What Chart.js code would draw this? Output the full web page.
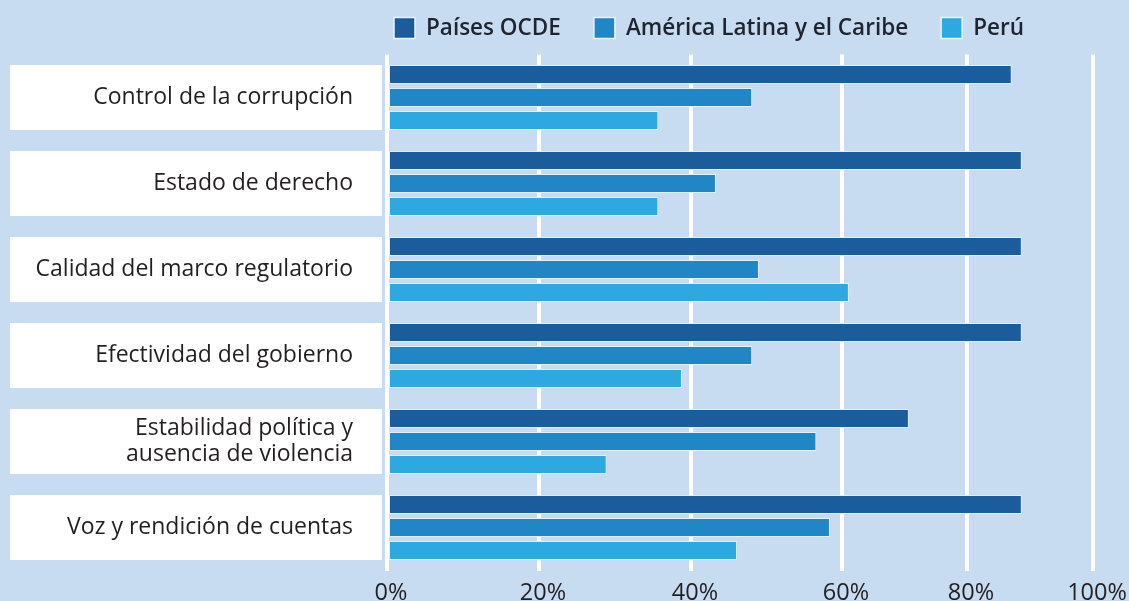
<!DOCTYPE html>
<html>
<head>
<meta charset="utf-8">
<script src="https://cdn.jsdelivr.net/npm/chart.js@4.4.0/dist/chart.umd.min.js"></script>
<style>
html, body { margin: 0; padding: 0; background: #c7dcf0; }
#wrap { width: 1129px; height: 601px; position: relative; }
canvas { display: block; }
</style>
</head>
<body>
<div id="wrap"><canvas id="c" width="1129" height="601"></canvas></div>
<script>
// ---- data ----
const categories = [
  "Control de la corrupción",
  "Estado de derecho",
  "Calidad del marco regulatorio",
  "Efectividad del gobierno",
  ["Estabilidad política y", "ausencia de violencia"],
  "Voz y rendición de cuentas"
];
const seriesNames = ["Países OCDE", "América Latina y el Caribe", "Perú"];
const ocdeValues = [87.1, 88.7, 88.7, 88.7, 70.7, 88.7];
const alcValues  = [48.1, 43.3, 49.0, 48.1, 56.6, 58.4];
const peruValues = [35.7, 35.7, 61.1, 38.8, 28.9, 46.1];
const tickValues = [0, 20, 40, 60, 80, 100];
const tickLabels = ["0%", "20%", "40%", "60%", "80%", "100%"];

// axis of the original graphic is not evenly spaced: fraction of axis length at each tick value
const axisStopFractions = [0, 0.2153, 0.4306, 0.6445, 0.8215, 1];

// ---- piecewise-linear scale (matches the uneven axis of the source graphic) ----
class PiecewiseScale extends Chart.LinearScale {
  _toFrac(v) {
    const n = tickValues.length;
    if (v <= tickValues[0]) {
      const k = (axisStopFractions[1] - axisStopFractions[0]) / (tickValues[1] - tickValues[0]);
      return axisStopFractions[0] + (v - tickValues[0]) * k;
    }
    for (let i = 1; i < n; i++) {
      if (v <= tickValues[i] || i === n - 1) {
        const k = (axisStopFractions[i] - axisStopFractions[i - 1]) / (tickValues[i] - tickValues[i - 1]);
        return axisStopFractions[i - 1] + (v - tickValues[i - 1]) * k;
      }
    }
    return 1;
  }
  _fromFrac(f) {
    const n = tickValues.length;
    for (let i = 1; i < n; i++) {
      if (f <= axisStopFractions[i] || i === n - 1) {
        const k = (tickValues[i] - tickValues[i - 1]) / (axisStopFractions[i] - axisStopFractions[i - 1]);
        return tickValues[i - 1] + (f - axisStopFractions[i - 1]) * k;
      }
    }
    return tickValues[n - 1];
  }
  getPixelForValue(value) {
    if (value === null || value === undefined || isNaN(value)) return NaN;
    return this.getPixelForDecimal(this._toFrac(value));
  }
  getValueForPixel(pixel) {
    return this._fromFrac(this.getDecimalForPixel(pixel));
  }
}
PiecewiseScale.id = 'piecewise';
PiecewiseScale.defaults = Chart.LinearScale.defaults;
Chart.register(PiecewiseScale);

const BG = '#c7dcf0';
const TEXT = '#231f20';

// background + white label boxes behind category names
const labelBoxes = {
  id: 'labelBoxes',
  beforeDraw(chart) {
    const ctx = chart.ctx;
    ctx.save();
    ctx.fillStyle = BG;
    ctx.fillRect(0, 0, chart.width, chart.height);
    const first = chart.getDatasetMeta(0).data;
    const last = chart.getDatasetMeta(chart.data.datasets.length - 1).data;
    ctx.fillStyle = '#ffffff';
    for (let i = 0; i < first.length; i++) {
      const top = first[i].y - first[i].height / 2;
      const bottom = last[i].y + last[i].height / 2;
      ctx.fillRect(10, top, chart.chartArea.left - 15, bottom - top);
    }
    ctx.restore();
  }
};

// legend drawn above the plot
const topLegend = {
  id: 'topLegend',
  afterDraw(chart) {
    const ctx = chart.ctx;
    ctx.save();
    ctx.font = '600 22.5px "Open Sans"';
    ctx.textBaseline = 'middle';
    let x = 394;
    const cy = 28;
    const sq = 21;
    chart.data.datasets.forEach(ds => {
      ctx.fillStyle = ds.backgroundColor;
      ctx.fillRect(x, cy - sq / 2, sq, sq);
      ctx.strokeStyle = '#e8f4fc';
      ctx.lineWidth = 1.5;
      ctx.strokeRect(x, cy - sq / 2, sq, sq);
      ctx.fillStyle = '#1e2530';
      const tx = x + sq + 11;
      ctx.fillText(ds.label, tx, cy + 1);
      x = tx + ctx.measureText(ds.label).width + 33;
    });
    ctx.restore();
  }
};

const barStyle = { borderColor: '#e2f0fa', borderWidth: 1, borderSkipped: false,
                   categoryPercentage: 0.80, barPercentage: 0.83 };

new Chart(document.getElementById('c'), {
  type: 'bar',
  data: {
    labels: categories,
    datasets: [
      Object.assign({ label: seriesNames[0], data: ocdeValues, backgroundColor: '#1b5c9c' }, barStyle),
      Object.assign({ label: seriesNames[1], data: alcValues,  backgroundColor: '#2186c6' }, barStyle),
      Object.assign({ label: seriesNames[2], data: peruValues, backgroundColor: '#2ea8e0' }, barStyle)
    ]
  },
  options: {
    indexAxis: 'y',
    responsive: false,
    animation: false,
    layout: { padding: { top: 54.5, right: 36, bottom: 0, left: 0 } },
    plugins: { legend: { display: false }, tooltip: { enabled: false } },
    scales: {
      x: {
        type: 'piecewise',
        min: 0, max: 100,
        afterBuildTicks(scale) { scale.ticks = tickValues.map(v => ({ value: v })); },
        ticks: {
          callback(v) { return tickLabels[tickValues.indexOf(v)]; },
          font: { family: 'Open Sans', size: 23.5 },
          color: TEXT,
          padding: 9,
          labelOffset: 4,
          maxRotation: 0,
          autoSkip: false
        },
        grid: { color: '#ffffff', lineWidth: 4, drawTicks: false },
        border: { display: false },
        afterFit(scale) { scale.height = 30.5; scale.paddingLeft = 0; scale.paddingRight = 0; }
      },
      y: {
        type: 'category',
        ticks: {
          font: { family: 'Open Sans', size: 23, lineHeight: 1.1 },
          color: TEXT,
          padding: 34
        },
        grid: { display: false, drawTicks: false },
        border: { display: false },
        afterFit(scale) { scale.width = 387; scale.paddingTop = 0; scale.paddingBottom = 0; }
      }
    }
  },
  plugins: [labelBoxes, topLegend]
});
</script>
</body>
</html>
